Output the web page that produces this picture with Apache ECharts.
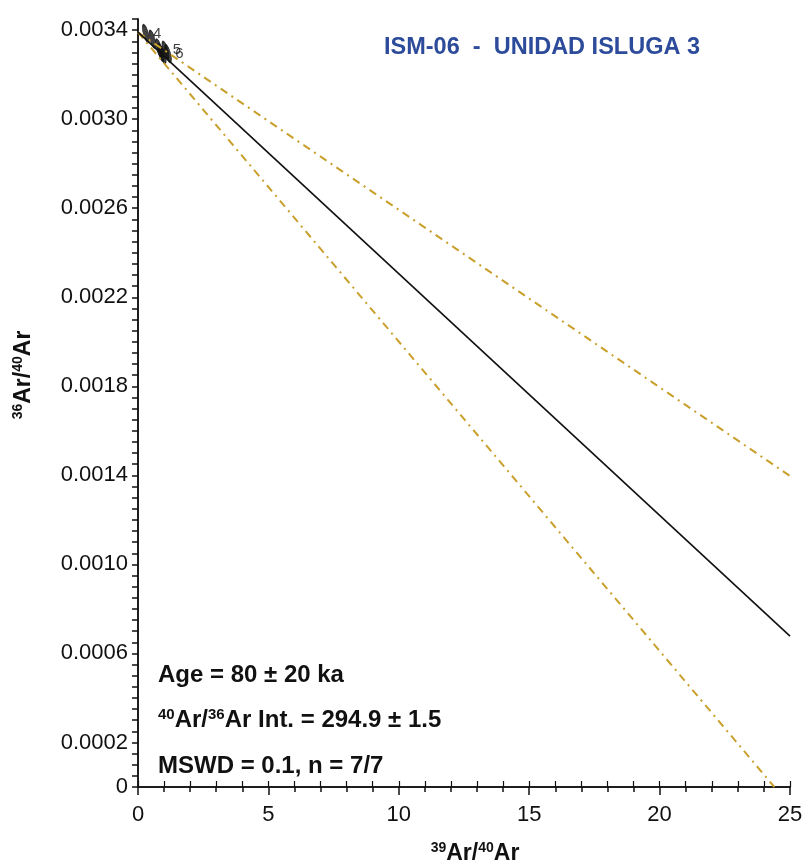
<!DOCTYPE html>
<html>
<head>
<meta charset="utf-8">
<script src="https://cdn.jsdelivr.net/npm/echarts@6/dist/echarts.min.js"></script>
<style>
  html, body { margin: 0; padding: 0; background: #fff; }
  #main { width: 811px; height: 865px; }
</style>
</head>
<body>
<div id="main"></div>
<script>
// isochron fit and error envelope
const fitX = [0, 25]
const fitY = [0.003391, 0.000678]
const upperX = [0, 25]
const upperY = [0.00339, 0.001397]
const lowerX = [0, 24.4]
const lowerY = [0.00339, 0]
// step data (x, y) and labels
const stepX = [0.3, 0.55, 0.8, 0.87, 0.95, 1.05, 1.15]
const stepY = [0.003385, 0.00336, 0.00332, 0.0033, 0.00329, 0.00331, 0.003295]
const stepLabels = ['4', '', '', '', '', '5', '6']

const gold = '#c9a02c'
const font = 'Liberation Sans, Arial, sans-serif'

const chart = echarts.init(document.getElementById('main'))

// bold text with superscripts
const supRich = function (size) {
  return {
    b: { fontFamily: font, fontSize: size, fontWeight: 'bold', fill: '#111', color: '#111' },
    s: { fontFamily: font, fontSize: Math.round(size * 0.62), fontWeight: 'bold', fill: '#111', color: '#111', padding: [0, 0, Math.round(size * 0.5), 0] }
  }
}

const option = {
  animation: false,
  grid: { left: 138, right: 21, top: 19, bottom: 78 },
  xAxis: [
    {
      type: 'value', min: 0, max: 25, interval: 5,
      axisLine: { lineStyle: { color: '#111', width: 1.5 } },
      axisTick: { length: 8, lineStyle: { color: '#111', width: 1.5 } },
      minorTick: { show: true, splitNumber: 5, length: 5, lineStyle: { color: '#111', width: 1.5 } },
      axisLabel: { fontFamily: font, fontSize: 22, color: '#111', margin: 17 },
      splitLine: { show: false }
    },
    {
      type: 'value', min: 0, max: 25, interval: 1, position: 'top',
      axisLine: { lineStyle: { color: '#111', width: 1.5 } },
      axisTick: { length: 6, lineStyle: { color: '#111', width: 1.2 } },
      axisLabel: { show: false },
      splitLine: { show: false }
    }
  ],
  yAxis: [
    {
      type: 'value', min: 0, max: 0.00345, interval: 0.0002,
      axisLine: { lineStyle: { color: '#111', width: 1.5 } },
      axisTick: { length: 6, lineStyle: { color: '#111', width: 1.5 } },
      minorTick: { show: true, splitNumber: 4, length: 6, lineStyle: { color: '#111', width: 1.5 } },
      axisLabel: {
        fontFamily: font, fontSize: 22, color: '#111', margin: 10,
        showMaxLabel: false,
        formatter: function (v) {
          if (v === 0) return '0'
          const k = Math.round(v * 10000)
          if (Math.abs(v * 10000 - k) > 1e-6) return ''
          return k % 4 === 2 ? v.toFixed(4) : ''
        }
      },
      splitLine: { show: false }
    },
    {
      type: 'value', min: 0, max: 0.00345, position: 'right',
      axisLine: { show: true, lineStyle: { color: '#111', width: 1.5 } },
      axisTick: { show: false },
      axisLabel: { show: false },
      splitLine: { show: false }
    }
  ],
  series: [
    {
      type: 'line', symbol: 'none',
      data: upperX.map((x, i) => [x, upperY[i]]),
      lineStyle: { color: gold, width: 2, type: [8, 5, 2, 5] }
    },
    {
      type: 'line', symbol: 'none',
      data: lowerX.map((x, i) => [x, lowerY[i]]),
      lineStyle: { color: gold, width: 2, type: [8, 5, 2, 5] }
    },
    {
      type: 'line', symbol: 'none',
      data: fitX.map((x, i) => [x, fitY[i]]),
      lineStyle: { color: '#111', width: 1.6 }
    },
    {
      type: 'scatter',
      data: stepX.map((x, i) => ({ value: [x, stepY[i]], label: { show: stepLabels[i] !== '', formatter: stepLabels[i] } })),
      symbol: 'path://M0,-10 C3,-10 3,10 0,10 C-3,10 -3,-10 0,-10 Z',
      symbolSize: [5, 18],
      symbolRotate: 15,
      itemStyle: { color: '#111', borderColor: '#111', borderWidth: 1 },
      label: { position: 'right', distance: 2, fontFamily: font, fontSize: 15, color: '#111' }
    }
  ],
  graphic: [
    {
      type: 'text', left: 384, top: 36,
      style: { text: 'ISM-06  -  UNIDAD ISLUGA 3', fontFamily: font, fontSize: 23.5, fontWeight: 'bold', fill: '#2d4b9b' }
    },
    {
      type: 'text', left: 158, top: 663,
      style: { text: 'Age = 80 ± 20 ka', fontFamily: font, fontSize: 24, fontWeight: 'bold', fill: '#111' }
    },
    {
      type: 'text', left: 158, top: 707,
      style: { text: '{s|40}{b|Ar/}{s|36}{b|Ar Int. = 294.9 ± 1.5}', rich: supRich(24) }
    },
    {
      type: 'text', left: 158, top: 754,
      style: { text: 'MSWD = 0.1, n = 7/7', fontFamily: font, fontSize: 24, fontWeight: 'bold', fill: '#111' }
    },
    {
      type: 'text', x: 475, y: 854,
      style: { text: '{s|39}{b|Ar/}{s|40}{b|Ar}', rich: supRich(23), align: 'center', verticalAlign: 'middle' }
    },
    {
      type: 'text', x: 24, y: 375, rotation: Math.PI / 2,
      style: { text: '{s|36}{b|Ar/}{s|40}{b|Ar}', rich: supRich(23), align: 'center', verticalAlign: 'middle' }
    }
  ]
}

chart.setOption(option)
</script>
</body>
</html>
